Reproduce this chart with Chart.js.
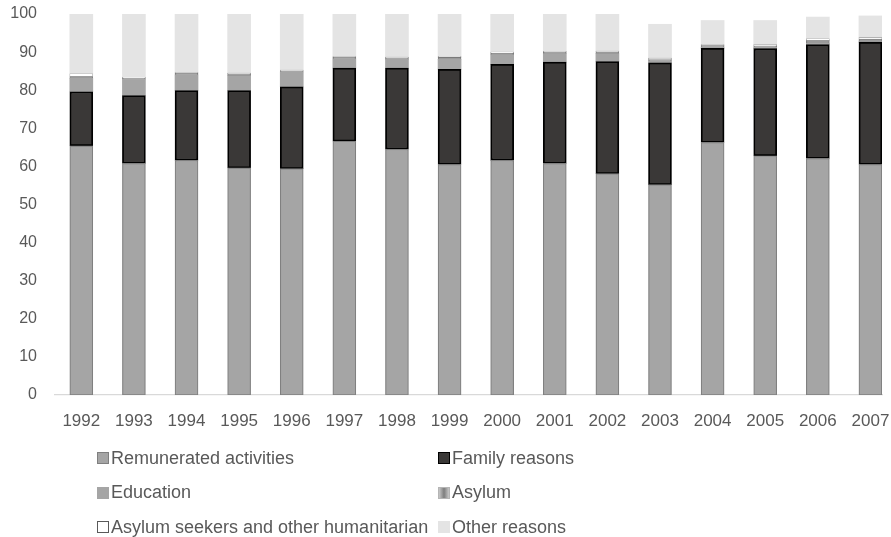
<!DOCTYPE html>
<html>
<head>
<meta charset="utf-8">
<script src="https://cdn.jsdelivr.net/npm/chart.js@4/dist/chart.umd.min.js"></script>
<style>
  html, body { margin: 0; padding: 0; background: #fff; overflow: hidden; }
  #wrap { position: relative; width: 891px; height: 537px; }
  #chart { position: absolute; left: 0; top: 0; }
  #legend {
    position: absolute; left: 97px; top: 447px;
    display: grid; grid-template-columns: 341px 300px; grid-auto-rows: 34.5px;
    font-family: "Liberation Sans", Arial, sans-serif; font-size: 18px; color: #595959;
  }
  .item { display: flex; align-items: center; height: 22px; white-space: nowrap; }
  .box { width: 12px; height: 12px; box-sizing: border-box; margin-right: 2px; flex: none; }
</style>
</head>
<body>
<div id="wrap">
  <canvas id="chart" width="891" height="537"></canvas>
  <div id="legend"></div>
</div>
<script>
// Years on the horizontal axis
const years = [1992, 1993, 1994, 1995, 1996, 1997, 1998, 1999, 2000, 2001, 2002, 2003, 2004, 2005, 2006, 2007];

// Share of permits by reason (%)
const remunerated = [65.4, 60.8, 61.6, 59.6, 59.4, 66.6, 64.5, 60.5, 61.6, 60.8, 58.1, 55.2, 66.3, 62.8, 62.1, 60.5];
const family      = [14.2, 17.8, 18.3, 20.3, 21.5, 19.2, 21.3, 25.0, 25.2, 26.6, 29.4, 32.0, 24.7, 28.1, 29.9, 32.1];
const education   = [3.5, 4.2, 4.1, 3.9, 3.9, 2.4, 2.3, 2.6, 2.5, 2.2, 2.1, 0.4, 0.3, 0.3, 0.3, 0.3];
const asylum      = [0.5, 0.4, 0.4, 0.5, 0.3, 0.4, 0.4, 0.5, 0.4, 0.4, 0.5, 0.4, 0.4, 0.4, 0.7, 0.5];
const seekers     = [0.7, 0.2, 0.2, 0.2, 0.2, 0.2, 0.2, 0.3, 0.3, 0.2, 0.2, 0.4, 0.3, 0.4, 0.5, 0.4];
const other       = [15.7, 16.6, 15.4, 15.5, 14.7, 11.2, 11.3, 11.1, 10.0, 9.8, 9.7, 8.9, 6.3, 6.3, 5.7, 5.7];

const yTicks = [0, 10, 20, 30, 40, 50, 60, 70, 80, 90, 100];

const seriesNames = [
  'Remunerated activities', 'Family reasons', 'Education', 'Asylum',
  'Asylum seekers and other humanitarian', 'Other reasons'
];

const points = arr => arr.map((v, i) => ({ x: years[i], y: v }));

const datasets = [
  { label: seriesNames[0], data: points(remunerated), backgroundColor: '#a5a5a5', borderColor: '#808080', borderWidth: 1.2, legendBox: 'background:#a5a5a5;border:1px solid #7f7f7f;' },
  { label: seriesNames[1], data: points(family), backgroundColor: '#3a3837', borderColor: '#000000', borderWidth: 1.8, legendBox: 'background:#3a3837;border:1.5px solid #000;' },
  { label: seriesNames[2], data: points(education), backgroundColor: '#a5a5a5', borderColor: '#a5a5a5', borderWidth: 0, legendBox: 'background:#a5a5a5;' },
  { label: seriesNames[3], data: points(asylum), backgroundColor: '#9a9a9a', borderColor: '#7a7a7a', borderWidth: 0.8, legendBox: 'background:linear-gradient(90deg,#c8c8c8,#7d7d7d 50%,#c8c8c8);border:1px solid #b5b5b5;' },
  { label: seriesNames[4], data: points(seekers), backgroundColor: '#ffffff', borderColor: '#8c8c8c', borderWidth: 0.6, legendBox: 'background:#fff;border:1px solid #595959;' },
  { label: seriesNames[5], data: points(other), backgroundColor: '#e4e4e4', borderColor: '#e4e4e4', borderWidth: 0, legendBox: 'background:#e4e4e4;' }
];
datasets.forEach(d => { d.borderSkipped = false; d.barThickness = 23; });

const fontFamily = '"Liberation Sans", Arial, sans-serif';

const chart = new Chart(document.getElementById('chart'), {
  type: 'bar',
  data: { datasets },
  options: {
    responsive: false,
    animation: false,
    layout: { padding: { top: 14, right: 9, left: 0, bottom: 0 } },
    plugins: { legend: { display: false }, tooltip: { enabled: false } },
    scales: {
      x: {
        type: 'linear',
        stacked: true,
        offset: false,
        min: 1991.5,
        max: 2007.22,
        grid: { display: false },
        border: { display: true, color: '#d9d9d9', width: 1.3 },
        ticks: { color: '#595959', font: { family: fontFamily, size: 17 }, padding: 8, maxRotation: 0, autoSkip: false, callback: v => String(v) },
        afterBuildTicks: s => { s.ticks = years.map(v => ({ value: v })); },
        afterFit: s => { s.height = 142; s.paddingLeft = 0; s.paddingRight = 0; }
      },
      y: {
        stacked: true,
        min: 0,
        max: 100,
        grid: { display: false, drawTicks: false },
        border: { display: false },
        ticks: { color: '#595959', font: { family: fontFamily, size: 16 }, padding: 18 },
        afterBuildTicks: s => { s.ticks = yTicks.map(v => ({ value: v })); },
        afterFit: s => { s.width = 55; s.paddingTop = 0; s.paddingBottom = 0; }
      }
    }
  }
});

// Legend laid out in two columns, built from the chart's datasets
const legend = document.getElementById('legend');
chart.data.datasets.forEach(ds => {
  const item = document.createElement('div');
  item.className = 'item';
  const box = document.createElement('span');
  box.className = 'box';
  box.style.cssText = ds.legendBox;
  const txt = document.createElement('span');
  txt.textContent = ds.label;
  item.appendChild(box);
  item.appendChild(txt);
  legend.appendChild(item);
});
</script>
</body>
</html>
